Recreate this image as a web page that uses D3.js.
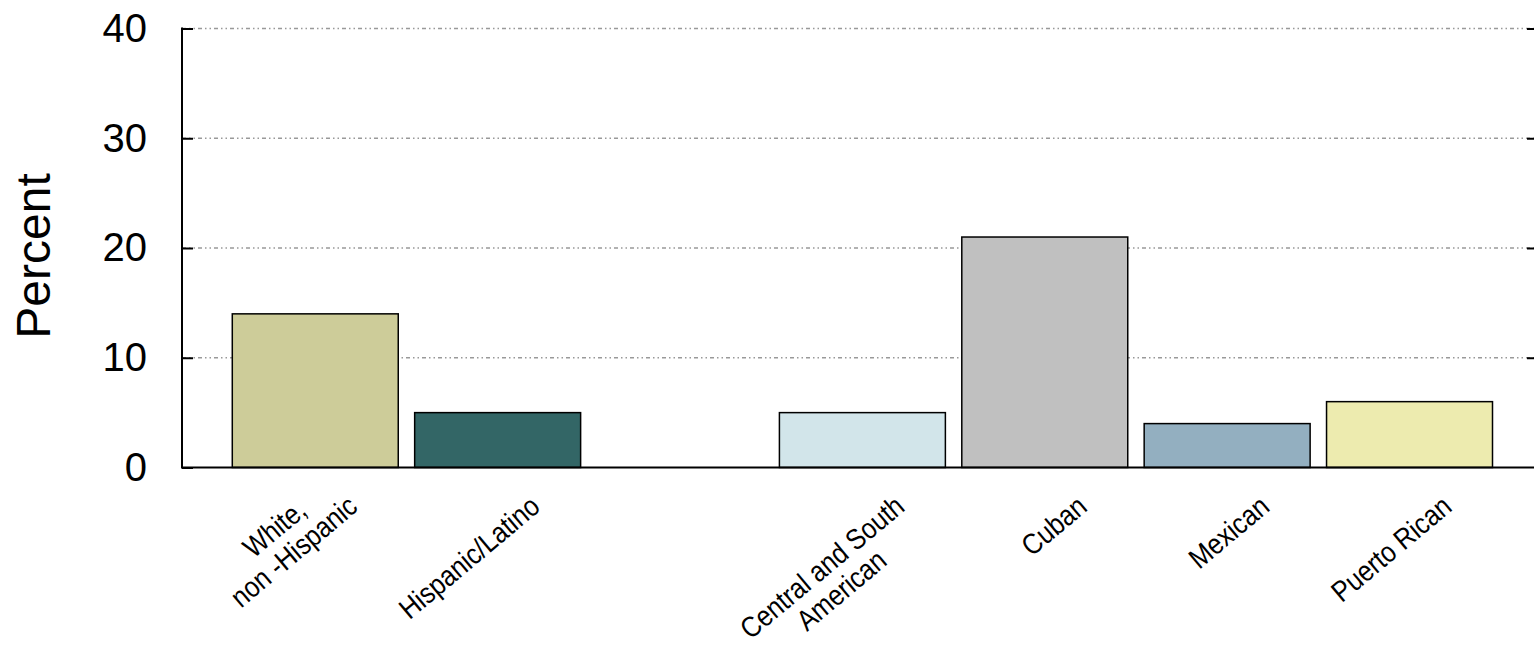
<!DOCTYPE html>
<html>
<head>
<meta charset="utf-8">
<script src="https://cdn.jsdelivr.net/npm/d3@7"></script>
<style>
  html, body { margin: 0; padding: 0; background: #fff; }
  svg { display: block; }
  text { font-family: "Liberation Sans", Arial, Helvetica, sans-serif; fill: #000; }
</style>
</head>
<body>
<svg id="chart" width="1534" height="653"></svg>
<script>
// ---- data ----
const categories = ["White,\nnon -Hispanic", "Hispanic/Latino", "", "Central and South\nAmerican", "Cuban", "Mexican", "Puerto Rican"];
const values = [14, 5, null, 5, 21, 4, 6];
const colors = ["#CDCC99", "#336666", "#FFFFFF", "#D2E5EA", "#C0C0C0", "#93AFC0", "#EDEBAF"];
const yTicks = [0, 10, 20, 30, 40];
const yTitle = "Percent";

(function () {
// ---- layout ----
const W = 1534, H = 653;
const pLeft = 182, pRight = 1538, pTop = 28.5, pBottom = 467.5;
const svg = d3.select("#chart");

const x = d3.scaleBand()
  .domain(d3.range(categories.length))
  .range([pLeft, pRight])
  .paddingInner(0.09)
  .paddingOuter(0.2626)
  .align(0.525);

const y = d3.scaleLinear().domain([0, 40]).range([pBottom, pTop]);

// gridlines
svg.append("g")
  .selectAll("line")
  .data(yTicks.filter(t => t > 0))
  .join("line")
  .attr("x1", pLeft).attr("x2", pRight)
  .attr("y1", d => y(d)).attr("y2", d => y(d))
  .attr("stroke", "#999")
  .attr("stroke-width", 1.7)
  .attr("stroke-dasharray", "4,3,1.5,3,1.5,3");

// bars
const data = values.map((v, i) => ({ i, v, c: colors[i] })).filter(d => d.v != null);
svg.append("g")
  .selectAll("rect")
  .data(data)
  .join("rect")
  .attr("x", d => x(d.i))
  .attr("width", x.bandwidth())
  .attr("y", d => y(d.v))
  .attr("height", d => y(0) - y(d.v))
  .attr("fill", d => d.c)
  .attr("stroke", "#000")
  .attr("stroke-width", 1.5);

// left axis
const yAxis = d3.axisLeft(y).tickValues(yTicks).tickSize(-11).tickPadding(35).tickFormat(d3.format("d"));
const ga = svg.append("g").attr("transform", `translate(${pLeft},0)`).call(yAxis);
ga.select(".domain").remove();
ga.selectAll(".tick line").attr("stroke", "#000").attr("stroke-width", 2);
ga.selectAll(".tick text").attr("font-size", 40).attr("font-family", "'Liberation Sans', Arial, sans-serif").attr("fill", "#000");
svg.append("line").attr("x1", pLeft).attr("x2", pLeft).attr("y1", pTop - 1).attr("y2", pBottom)
  .attr("stroke", "#000").attr("stroke-width", 2);

// right ticks
const yAxisR = d3.axisRight(y).tickValues(yTicks.filter(t => t > 0)).tickSize(-11).tickFormat("");
const gr = svg.append("g").attr("transform", `translate(${pRight},0)`).call(yAxisR);
gr.select(".domain").remove();
gr.selectAll(".tick line").attr("stroke", "#000").attr("stroke-width", 2);

// bottom axis line
svg.append("line").attr("x1", pLeft - 1).attr("x2", W).attr("y1", pBottom).attr("y2", pBottom)
  .attr("stroke", "#000").attr("stroke-width", 2);

// y title
svg.append("text")
  .attr("transform", `translate(50,${(pTop + pBottom) / 2 + 8}) rotate(-90)`)
  .attr("text-anchor", "middle")
  .attr("font-size", 48)
  .text(yTitle);

// x labels
const ang = -40, rad = ang * Math.PI / 180, lh = 30, fs = 29, sx = 0.87;
const dxA = 44, dyA = 42;
const lg = svg.append("g");
categories.forEach((cat, i) => {
  if (!cat) return;
  const g = lg.append("g");
  const t = g.append("text").attr("font-size", fs).attr("text-anchor", "middle");
  const lines = cat.split("\n");
  const spans = lines.map((ln, k) => t.append("tspan").attr("x", 0).attr("y", k * lh).text(ln));
  const widths = spans.map(s => s.node().getComputedTextLength());
  const wmax = d3.max(widths);
  const idx = widths.indexOf(wmax);
  spans.forEach(s => s.attr("x", -wmax / 2));
  const L = idx * lh;
  const px = -L * Math.sin(rad), py = L * Math.cos(rad);
  const cx = x(i) + x.bandwidth() / 2;
  g.attr("transform", `translate(${cx + dxA - px},${pBottom + dyA - py}) rotate(${ang}) scale(${sx},1)`);
});
})();
</script>
</body>
</html>
